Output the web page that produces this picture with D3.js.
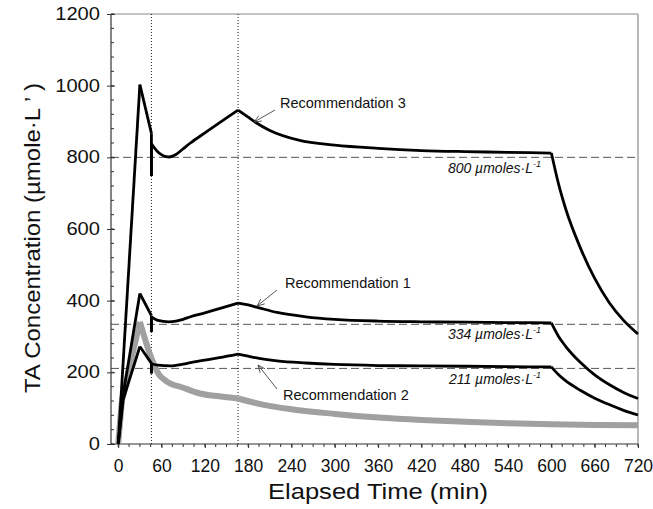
<!DOCTYPE html>
<html>
<head>
<meta charset="utf-8">
<script src="https://cdn.jsdelivr.net/npm/d3@7"></script>
<style>
  html, body { margin: 0; padding: 0; background: #fff; }
  svg { display: block; font-family: "Liberation Sans", Arial, Helvetica, sans-serif; }
</style>
</head>
<body>
<svg id="chart" width="653" height="509"></svg>
<script>
// ---- data (time in min, TA concentration in µmole/L) ----
const rec3 = [[0,0],[30,1003],[46,867],[46,748],[46,838],[55,815],[70,801],[80,808],[90,824],[100,840],[120,868],[140,896],[166,932],[180,912],[190,898],[210,875],[250,848],[300,834],[360,825],[420,819],[480,816],[540,814],[600,812],[610,725],[620,655],[640,548],[660,462],[680,395],[700,345],[720,307]];
const rec1 = [[0,0],[7,140],[30,420],[46,358],[46,313],[46,355],[55,345],[70,341],[80,343],[90,348],[100,355],[120,366],[140,378],[166,393],[180,388],[195,380],[220,367],[260,355],[300,348],[360,343],[420,341],[480,340],[540,339],[600,338],[610,300],[620,272],[640,228],[660,193],[680,166],[700,144],[720,127]];
const rec2 = [[0,0],[7,125],[30,272],[46,225],[46,197],[46,224],[55,220],[72,218],[90,223],[100,227],[120,234],[140,241],[166,251],[180,245],[195,239],[220,232],[260,226],[300,222],[360,219],[420,218],[480,217],[540,216],[600,215],[610,193],[620,176],[640,150],[660,128],[680,110],[700,94],[720,81]];
const grayCurve = [[0,0],[5,120],[30,341],[45,245],[56,195],[67,175],[90,157],[113,141],[140,133],[166,127],[200,110],[240,97],[300,84],[360,74],[420,67],[480,62],[540,58],[600,55],[660,53],[720,52]];
const recKnots = [7, 30, 46, 166, 600];
const grayKnots = [5, 30, 166];
const refValues = [800, 334, 211];
const refLabels = ["800", "334", "211"];
const doseTimes = [46, 166];
const xTicks = [0,60,120,180,240,300,360,420,480,540,600,660,720];
const yTicks = [0,200,400,600,800,1000,1200];
const annotations = ["Recommendation 3", "Recommendation 1", "Recommendation 2"];

// ---- layout ----
const svg = d3.select("#chart");
const x = d3.scaleLinear().domain([-10, 720]).range([111, 638]);
const y = d3.scaleLinear().domain([0, 1200]).range([444, 14]);
const X0 = x.range()[0], X1 = x.range()[1], Y0 = y.range()[0], Y1 = y.range()[1];

// frame (top and right)
svg.append("line").attr("x1", X0).attr("x2", X1).attr("y1", Y1).attr("y2", Y1).attr("stroke", "#8a8a8a").attr("stroke-width", 1.2);
svg.append("line").attr("x1", X1).attr("x2", X1).attr("y1", Y1).attr("y2", Y0).attr("stroke", "#8a8a8a").attr("stroke-width", 1.2);

// reference dashed lines
svg.selectAll(".ref").data(refValues).enter().append("line")
  .attr("x1", X0).attr("x2", X1)
  .attr("y1", d => y(d)).attr("y2", d => y(d))
  .attr("stroke", "#555").attr("stroke-width", 1).attr("stroke-dasharray", "8,4");

// dotted dose lines
svg.selectAll(".dose").data(doseTimes).enter().append("line")
  .attr("x1", d => x(d)).attr("x2", d => x(d))
  .attr("y1", Y1).attr("y2", Y0)
  .attr("stroke", "#222").attr("stroke-width", 1).attr("stroke-dasharray", "1,2");

// axes
const xMinor = d3.range(0, 721, 15);
const yMinor = d3.range(0, 1201, 40);
const xAxis = d3.axisBottom(x).tickValues(xTicks).tickSize(4).tickPadding(12).tickFormat(d3.format("d"));
const gx = svg.append("g").attr("transform", `translate(0,${Y0})`).call(xAxis);
gx.select(".domain").attr("d", `M${X0},0H${X1}`).attr("stroke", "#333").attr("stroke-width", 1.2);
gx.selectAll(".tick line").attr("stroke", "#333");
gx.selectAll("text").attr("font-size", 17.5).attr("fill", "#111").attr("font-family", "Liberation Sans, Arial, sans-serif");
svg.append("g").selectAll("line").data(xMinor).enter().append("line")
  .attr("x1", d => x(d)).attr("x2", d => x(d)).attr("y1", Y0).attr("y2", Y0 + 3)
  .attr("stroke", "#333").attr("stroke-width", 1);

const yAxis = d3.axisLeft(y).tickValues(yTicks).tickSize(4).tickPadding(7).tickFormat(d3.format("d"));
const gy = svg.append("g").attr("transform", `translate(${X0},0)`).call(yAxis);
gy.select(".domain").attr("d", `M0,${Y0}V${Y1}`).attr("stroke", "#333").attr("stroke-width", 1.2);
gy.selectAll(".tick line").attr("stroke", "#333").attr("x2", 4).attr("x1", -4);
gy.selectAll("text").attr("font-size", 17.5).attr("fill", "#111").attr("font-family", "Liberation Sans, Arial, sans-serif")
  .attr("textLength", d => String(d).length * 11.2).attr("lengthAdjust", "spacingAndGlyphs");
svg.append("g").selectAll("line").data(yMinor).enter().append("line")
  .attr("x1", X0).attr("x2", X0 + 3).attr("y1", d => y(d)).attr("y2", d => y(d))
  .attr("stroke", "#333").attr("stroke-width", 1);

// curves: split at knots; smooth pieces use monotone interpolation
function pieces(pts, knots) {
  const out = [];
  let cur = [pts[0]];
  for (let i = 1; i < pts.length; i++) {
    cur.push(pts[i]);
    if (knots.includes(pts[i][0]) || (i + 1 < pts.length && pts[i + 1][0] === pts[i][0])) {
      out.push(cur);
      cur = [pts[i]];
    }
  }
  if (cur.length > 1) out.push(cur);
  return out;
}
function drawSeries(pts, knots, color, width) {
  const g = svg.append("g");
  pieces(pts, knots).forEach(p => {
    let increasing = true;
    for (let i = 1; i < p.length; i++) if (p[i][0] <= p[i - 1][0]) increasing = false;
    const curve = (p.length > 2 && increasing) ? d3.curveMonotoneX : d3.curveLinear;
    const line = d3.line().x(d => x(d[0])).y(d => y(d[1])).curve(curve);
    g.append("path").attr("d", line(p)).attr("fill", "none")
      .attr("stroke", color).attr("stroke-width", width)
      .attr("stroke-linejoin", "miter").attr("stroke-linecap", "butt");
  });
}
drawSeries(grayCurve, grayKnots, "#a0a0a0", 6);
drawSeries(rec2, recKnots, "#000", 2.8);
drawSeries(rec1, recKnots, "#000", 2.8);
drawSeries(rec3, recKnots, "#000", 2.8);

// reference labels
const refLabelY = [173, 339, 384];
refLabels.forEach((lab, i) => {
  const t = svg.append("text").attr("x", 541).attr("y", refLabelY[i])
    .attr("text-anchor", "end").attr("font-size", 14).attr("font-style", "italic").attr("fill", "#111");
  t.append("tspan").text(lab + " \u00b5moles\u00b7L");
  t.append("tspan").attr("font-size", 9).attr("dy", -6).text("-1");
});

// annotations with open arrows
const annPos = [
  { tx: 280, ty: 108, x1: 275, y1: 110, x2: 254, y2: 122 },
  { tx: 285, ty: 288, x1: 277, y1: 290, x2: 257, y2: 306 },
  { tx: 283, ty: 400, x1: 277, y1: 389, x2: 258, y2: 365 }
];
annotations.forEach((txt, i) => {
  const a = annPos[i];
  svg.append("text").attr("x", a.tx).attr("y", a.ty).attr("font-size", 14.5).attr("fill", "#111").text(txt);
  svg.append("line").attr("x1", a.x1).attr("y1", a.y1).attr("x2", a.x2).attr("y2", a.y2)
    .attr("stroke", "#444").attr("stroke-width", 0.9);
  const ang = Math.atan2(a.y1 - a.y2, a.x1 - a.x2);
  const L = 8, spread = 0.4;
  const p1 = [a.x2 + L * Math.cos(ang + spread), a.y2 + L * Math.sin(ang + spread)];
  const p2 = [a.x2 + L * Math.cos(ang - spread), a.y2 + L * Math.sin(ang - spread)];
  svg.append("path").attr("d", `M${p1[0]},${p1[1]}L${a.x2},${a.y2}L${p2[0]},${p2[1]}`)
    .attr("fill", "none").attr("stroke", "#444").attr("stroke-width", 0.9);
});

// axis titles
svg.append("text").attr("x", 378).attr("y", 499).attr("text-anchor", "middle")
  .attr("font-size", 22).attr("fill", "#111")
  .attr("textLength", 220).attr("lengthAdjust", "spacingAndGlyphs")
  .text("Elapsed Time (min)");
svg.append("text").attr("transform", "translate(40,238) rotate(-90)")
  .attr("text-anchor", "middle").attr("font-size", 22).attr("fill", "#111")
  .attr("textLength", 310).attr("lengthAdjust", "spacingAndGlyphs")
  .text("TA Concentration (\u00b5mole\u00b7L \u2019 )");
</script>
</body>
</html>
